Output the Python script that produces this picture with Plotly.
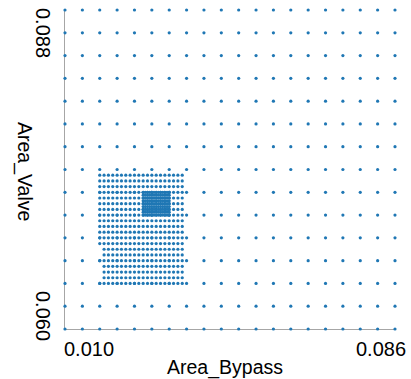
import itertools
import plotly.graph_objects as go

# Coarse sampling grid over the full design space
coarse_x = [0.010, 0.014, 0.018, 0.022, 0.026, 0.030, 0.034, 0.038, 0.042, 0.046,
            0.050, 0.054, 0.058, 0.062, 0.066, 0.070, 0.074, 0.078, 0.082, 0.086]
coarse_y = [0.060, 0.062, 0.064, 0.066, 0.068, 0.070, 0.072, 0.074, 0.076, 0.078,
            0.080, 0.082, 0.084, 0.086, 0.088]

# Refined grid around the region of interest
medium_x = [0.018, 0.019, 0.020, 0.021, 0.022, 0.023, 0.024, 0.025, 0.026, 0.027,
            0.028, 0.029, 0.030, 0.031, 0.032, 0.033, 0.034, 0.035, 0.036, 0.037]
medium_y = [0.0640, 0.0645, 0.0650, 0.0655, 0.0660, 0.0665, 0.0670, 0.0675, 0.0680, 0.0685,
            0.0690, 0.0695, 0.0700, 0.0705, 0.0710, 0.0715, 0.0720, 0.0725, 0.0730, 0.0735]
# rows of the refined grid that start one step in (no 0.018 sample)
medium_rows_inset = [0.0645, 0.0650, 0.0655, 0.0665, 0.0670]

# Finest grid around the optimum
fine_x = [0.0280, 0.0285, 0.0290, 0.0295, 0.0300, 0.0305, 0.0310, 0.0315, 0.0320,
          0.0325, 0.0330, 0.0335, 0.0340]
fine_y = [0.07000, 0.07025, 0.07050, 0.07075, 0.07100, 0.07125, 0.07150, 0.07175, 0.07200]

xs, ys = [], []
for gx, gy in itertools.product(coarse_x, coarse_y):
    xs.append(gx)
    ys.append(gy)
for gy in medium_y:
    for gx in medium_x:
        if gy in medium_rows_inset and gx == medium_x[0]:
            continue
        xs.append(gx)
        ys.append(gy)
for gx, gy in itertools.product(fine_x, fine_y):
    xs.append(gx)
    ys.append(gy)

FONT = "Arial, Liberation Sans, sans-serif"

fig = go.Figure(go.Scatter(
    x=xs, y=ys, mode="markers",
    marker=dict(size=3.2, color="#1f77b4", line=dict(width=0)),
    cliponaxis=False, hoverinfo="x+y",
))

axis_common = dict(showticklabels=False, showgrid=False, zeroline=False,
                   showline=True, linecolor="#a6a6a6", linewidth=1, ticks="",
                   layer="below traces")

fig.update_layout(
    width=411, height=379,
    margin=dict(l=65, r=16, t=10, b=50),
    paper_bgcolor="white", plot_bgcolor="white",
    showlegend=False,
    font=dict(family=FONT, color="black"),
    xaxis=dict(range=[coarse_x[0], coarse_x[-1]], **axis_common),
    yaxis=dict(range=[coarse_y[0], coarse_y[-1]], **axis_common),
)

tick_font = dict(family=FONT, size=20, color="black")
title_font = dict(family=FONT, size=19.5, color="black")

annotations = [
    dict(text="0.010", x=coarse_x[0], xref="x", y=0, yref="paper",
         xanchor="left", yanchor="middle", xshift=-3, yshift=-19.5, font=tick_font),
    dict(text="0.086", x=coarse_x[-1], xref="x", y=0, yref="paper",
         xanchor="right", yanchor="middle", xshift=13, yshift=-19.5, font=tick_font),
    dict(text="0.088", x=0, xref="paper", y=coarse_y[-1], yref="y",
         xanchor="center", yanchor="middle", xshift=-21.5, yshift=-22.5,
         textangle=90, font=tick_font),
    dict(text="0.060", x=0, xref="paper", y=coarse_y[0], yref="y",
         xanchor="center", yanchor="middle", xshift=-21.5, yshift=13.5,
         textangle=90, font=tick_font),
    dict(text="Area_Bypass", x=0.5, xref="paper", y=0, yref="paper",
         xanchor="center", yanchor="middle", xshift=-5, yshift=-38, font=title_font),
    dict(text="Area_Valve", x=0, xref="paper", y=0.5, yref="paper",
         xanchor="center", yanchor="middle", xshift=-40, yshift=-1.5,
         textangle=90, font=title_font),
]
for a in annotations:
    a["showarrow"] = False
fig.update_layout(annotations=annotations)

fig.write_html("out.html")
